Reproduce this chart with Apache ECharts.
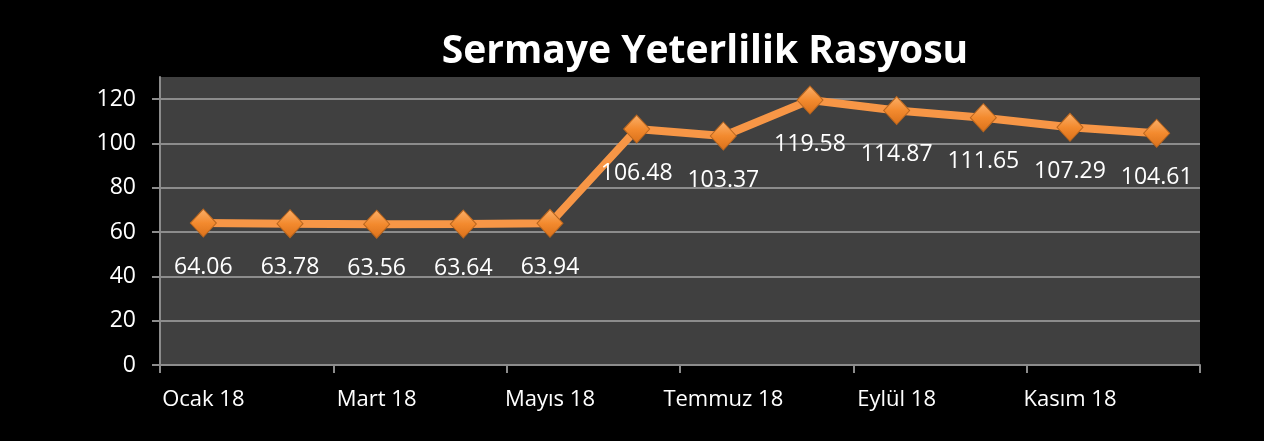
<!DOCTYPE html>
<html>
<head>
<meta charset="utf-8">
<script src="https://cdn.jsdelivr.net/npm/echarts@6/dist/echarts.min.js"></script>
<style>
  html, body { margin: 0; padding: 0; background: #000; }
  #chart { width: 1264px; height: 441px; }
</style>
</head>
<body>
<div id="chart"></div>
<script>
// aylar (kategori)
var months = ["Ocak 18", "Şubat 18", "Mart 18", "Nisan 18", "Mayıs 18", "Haziran 18",
  "Temmuz 18", "Ağustos 18", "Eylül 18", "Ekim 18", "Kasım 18", "Aralık 18"];
// sermaye yeterlilik rasyosu degerleri
var ratios = [64.06, 63.78, 63.56, 63.64, 63.94, 106.48, 103.37, 119.58, 114.87, 111.65, 107.29, 104.61];
var titleText = "Sermaye Yeterlilik Rasyosu";

var myChart = echarts.init(document.getElementById("chart"));
var option = {
  backgroundColor: "#000",
  textStyle: { fontFamily: "Open Sans" },
  title: {
    text: titleText,
    left: 700,
    textAlign: "center",
    top: 27,
    textStyle: { color: "#fff", fontSize: 39, fontWeight: "bold", fontFamily: "Open Sans" }
  },
  grid: {
    left: 160,
    right: 64,
    top: 77,
    bottom: 76,
    show: true,
    backgroundColor: "#404040",
    borderWidth: 0
  },
  xAxis: {
    type: "category",
    data: months,
    boundaryGap: true,
    axisLine: { lineStyle: { color: "#8c8c8c", width: 2 } },
    axisTick: { show: true, interval: 1, length: 8, lineStyle: { color: "#8c8c8c", width: 2 } },
    axisLabel: { interval: 1, color: "#fff", fontSize: 22, margin: 24 },
    splitLine: { show: false }
  },
  yAxis: {
    type: "value",
    min: 0,
    max: 130,
    interval: 20,
    axisLine: { show: true, lineStyle: { color: "#8c8c8c", width: 2 } },
    axisTick: { show: true, length: 8, lineStyle: { color: "#8c8c8c", width: 2 } },
    axisLabel: { color: "#fff", fontSize: 23, margin: 24, showMaxLabel: false,
      formatter: function (v) { return v > 120 ? "" : v; } },
    splitLine: { show: true, showMaxLine: false, showMinLine: false, lineStyle: { color: "#8c8c8c", width: 2 } }
  },
  series: [
    {
      type: "line",
      data: ratios,
      symbol: "diamond",
      symbolSize: [26, 28],
      lineStyle: { color: "#f79646", width: 8 },
      itemStyle: {
        color: new echarts.graphic.LinearGradient(0, 0, 0, 1, [
          { offset: 0, color: "#fbb06a" },
          { offset: 0.5, color: "#f38a2e" },
          { offset: 1, color: "#d9701a" }
        ]),
        borderColor: "#b8651e",
        borderWidth: 1
      },
      label: {
        show: true,
        position: "bottom",
        distance: 18,
        color: "#fff",
        fontSize: 23,
        formatter: function (p) { return p.value.toFixed(2); }
      },
      z: 3
    }
  ]
};
myChart.setOption(option);
window.addEventListener("resize", function () {
  myChart.resize();
});
</script>
</body>
</html>
